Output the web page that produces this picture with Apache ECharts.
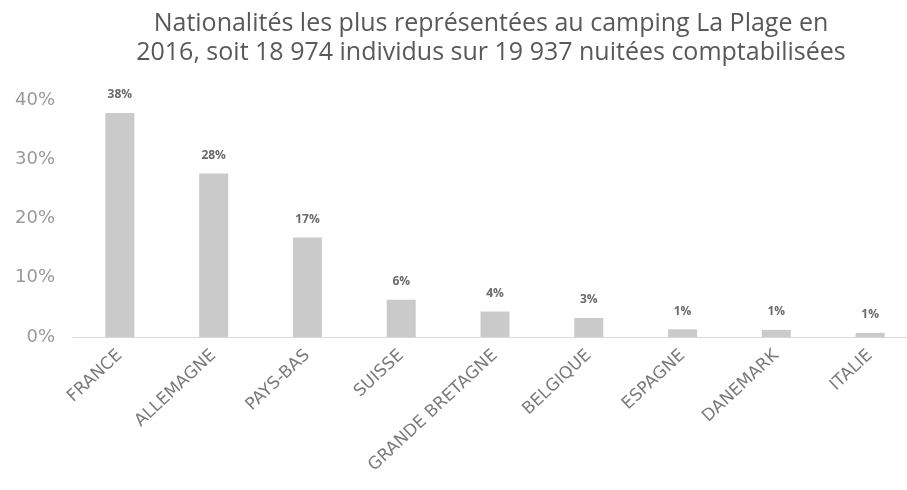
<!DOCTYPE html>
<html>
<head>
<meta charset="utf-8">
<script src="https://cdn.jsdelivr.net/npm/echarts@6/dist/echarts.min.js"></script>
<style>
  html, body { margin: 0; padding: 0; background: #fff; }
  #chart { width: 907px; height: 490px; }
</style>
</head>
<body>
<div id="chart"></div>
<script>
const titleLines = [
  'Nationalités les plus représentées au camping La Plage en',
  '2016, soit 18 974 individus sur 19 937 nuitées comptabilisées'
]
const countries = ['FRANCE', 'ALLEMAGNE', 'PAYS-BAS', 'SUISSE', 'GRANDE BRETAGNE', 'BELGIQUE', 'ESPAGNE', 'DANEMARK', 'ITALIE']
const shares = [37.8, 27.6, 16.8, 6.3, 4.3, 3.2, 1.3, 1.2, 0.7]
const yTicks = [0, 10, 20, 30, 40]

const font = '"Open Sans", "Noto Sans", sans-serif'
const wide = '"DejaVu Sans", sans-serif'
const chart = echarts.init(document.getElementById('chart'))
chart.setOption({
  animation: false,
  title: {
    text: titleLines.join('\n'),
    left: 486,
    textAlign: 'center',
    top: 4,
    textStyle: { fontFamily: font, fontSize: 25, fontWeight: 'normal', color: '#595959', lineHeight: 29 }
  },
  grid: { left: 73, width: 844, top: 100, height: 237, containLabel: false, outerBoundsMode: 'none' },
  xAxis: {
    type: 'category',
    data: countries,
    axisLine: { lineStyle: { color: '#d9d9d9', width: 1 } },
    axisTick: { show: false },
    axisLabel: { rotate: 43, interval: 0, margin: 16, fontFamily: wide, fontSize: 17, color: '#7a7a7a' }
  },
  yAxis: {
    type: 'value',
    min: yTicks[0],
    max: yTicks[yTicks.length - 1],
    interval: 10,
    splitLine: { show: false },
    axisLine: { show: false },
    axisTick: { show: false },
    axisLabel: { formatter: '{value}%', margin: 18, fontFamily: wide, fontSize: 18, color: '#9a9a9a' }
  },
  series: [{
    type: 'bar',
    data: shares,
    barWidth: 29,
    itemStyle: { color: '#cacaca' },
    label: {
      show: true,
      position: 'top',
      distance: 12,
      formatter: p => Math.round(p.value) + '%',
      fontFamily: font,
      fontSize: 12,
      fontWeight: 'bold',
      color: '#6a6a6a'
    }
  }]
})
</script>
</body>
</html>
